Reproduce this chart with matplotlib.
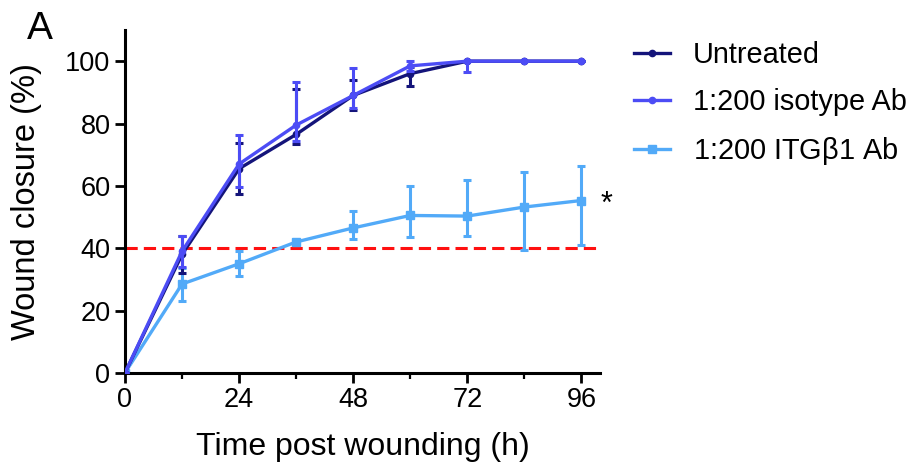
import numpy as np
import matplotlib.pyplot as plt
from matplotlib.ticker import MultipleLocator

plt.rcParams['font.family'] = ['Liberation Sans', 'DejaVu Sans']

# Data (mean, lower / upper error)
hours = [0, 12, 24, 36, 48, 60, 72, 84, 96]

untreated = [0, 38, 65.5, 76.5, 89, 96, 100, 100, 100]
untreated_lo = [0, 6, 8, 3.2, 4.8, 4, 0, 0, 0]
untreated_hi = [0, 6, 8.2, 14.7, 5, 2, 0, 0, 0]

isotype = [0, 39, 67, 79.5, 89, 98.5, 100, 100, 100]
isotype_lo = [0, 5, 7.5, 5, 4, 1.5, 3.5, 0, 0]
isotype_hi = [0, 5, 9.2, 13.8, 8.7, 1.6, 0, 0, 0]

itgb1 = [0, 28.5, 35, 42, 46.5, 50.5, 50.3, 53.2, 55.3]
itgb1_lo = [0, 5.5, 4, 0.5, 3.5, 7, 6.5, 13.7, 14.3]
itgb1_hi = [0, 5, 4, 0.5, 5.5, 9.5, 11.7, 11.2, 11]

threshold = 40

navy = '#14147a'
blue = '#4c4cf5'
light = '#52aaf8'

fig = plt.figure(figsize=(9.09, 4.69), dpi=100)
ax = fig.add_axes([0.1375, 0.205, 0.523, 0.731])

# 40% reference line
ax.plot([0, 100], [threshold, threshold], color='#ff1010', lw=2.2,
        ls=(0, (4, 2)), zorder=1)

eb_kw = dict(lw=2.4, elinewidth=2.2, capsize=2.6, capthick=2.2)
e3 = ax.errorbar(hours, itgb1, yerr=[itgb1_lo, itgb1_hi], color=light,
                 marker='s', ms=5.5, zorder=2, **eb_kw)
e1 = ax.errorbar(hours, untreated, yerr=[untreated_lo, untreated_hi], color=navy,
                 marker='o', ms=4.5, zorder=3, **eb_kw)
e2 = ax.errorbar(hours, isotype, yerr=[isotype_lo, isotype_hi], color=blue,
                 marker='o', ms=4.5, zorder=4, **eb_kw)

ax.text(101.2, 54, '*', fontsize=22, ha='center', va='center')

ax.set_xlim(0, 100)
ax.set_ylim(0, 110)
ax.set_xticks([0, 24, 48, 72, 96])
ax.xaxis.set_minor_locator(MultipleLocator(12))
ax.set_yticks([0, 20, 40, 60, 80, 100])

for s in ['top', 'right']:
    ax.spines[s].set_visible(False)
for s in ['left', 'bottom']:
    ax.spines[s].set_linewidth(2.2)

ax.tick_params(which='major', length=7, width=2.0, labelsize=19.5, pad=3.5,
               direction='out')
ax.tick_params(which='minor', length=4, width=1.6, direction='out')

ax.set_xlabel('Time post wounding (h)', fontsize=23)
ax.set_ylabel('Wound closure (%)', fontsize=23.5)
ax.xaxis.set_label_coords(0.5, -0.172)
ax.yaxis.set_label_coords(-0.174, 0.5)

fig.text(0.044, 0.938, 'A', fontsize=28, ha='center', va='center')

leg = fig.legend([e1[0], e2[0], e3[0]],
                 ['Untreated', '1:200 isotype Ab', r'1:200 ITG$\mathregular{\beta}$1 Ab'],
                 loc='upper left', bbox_to_anchor=(0.698, 0.913), frameon=False,
                 fontsize=20.8, handlelength=1.22, handletextpad=0.8,
                 labelspacing=0.66, borderpad=0, borderaxespad=0)

fig.savefig('out.png', dpi=100)
